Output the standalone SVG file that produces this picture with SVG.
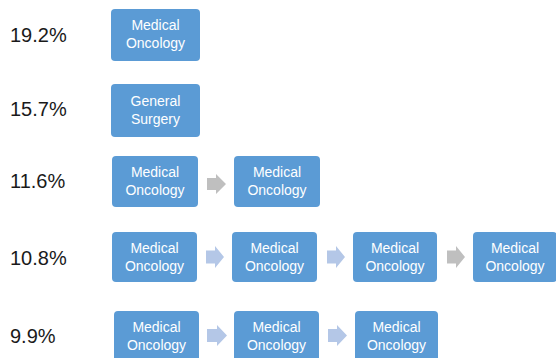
<svg xmlns="http://www.w3.org/2000/svg" width="556" height="358" viewBox="0 0 556 358">
<style>
.pct{font-family:"Liberation Sans",Arial,sans-serif;font-size:20px;fill:#1a1a1a}
.box rect{fill:#5B9BD5}
.box text{font-family:"Liberation Sans",Arial,sans-serif;font-size:14px;fill:#ffffff;text-anchor:middle}
.ab{fill:#B4C7E7}
.ag{fill:#BFBFBF}
</style>
<rect width="556" height="358" fill="#ffffff"/>
<g id="labels">
<text class="pct" x="10" y="42">19.2%</text>
<text class="pct" x="10" y="116">15.7%</text>
<text class="pct" x="10" y="188">11.6%</text>
<text class="pct" x="10" y="265">10.8%</text>
<text class="pct" x="10" y="343">9.9%</text>
</g>
<g id="r1n1" class="box"><rect x="111" y="9" width="89" height="52" rx="4"/><text x="155.5" y="30">Medical</text><text x="155.5" y="48">Oncology</text></g>
<g id="r2n1" class="box"><rect x="111" y="84" width="89" height="53" rx="4"/><text x="155.5" y="106">General</text><text x="155.5" y="124">Surgery</text></g>
<g id="r3n1" class="box"><rect x="112" y="156" width="86" height="51" rx="4"/><text x="155" y="177">Medical</text><text x="155" y="195">Oncology</text></g>
<g id="r3n2" class="box"><rect x="234" y="156" width="86" height="51" rx="4"/><text x="277" y="177">Medical</text><text x="277" y="195">Oncology</text></g>
<g id="r4n1" class="box"><rect x="112" y="232" width="85" height="50" rx="4"/><text x="154.5" y="253">Medical</text><text x="154.5" y="271">Oncology</text></g>
<g id="r4n2" class="box"><rect x="232" y="232" width="85" height="50" rx="4"/><text x="274.5" y="253">Medical</text><text x="274.5" y="271">Oncology</text></g>
<g id="r4n3" class="box"><rect x="353" y="232" width="84" height="50" rx="4"/><text x="395" y="253">Medical</text><text x="395" y="271">Oncology</text></g>
<g id="r4n4" class="box"><rect x="473" y="232" width="84" height="50" rx="4"/><text x="515" y="253">Medical</text><text x="515" y="271">Oncology</text></g>
<g id="r5n1" class="box"><rect x="114" y="311" width="85" height="52" rx="4"/><text x="156.5" y="332">Medical</text><text x="156.5" y="350">Oncology</text></g>
<g id="r5n2" class="box"><rect x="234" y="311" width="85" height="52" rx="4"/><text x="276.5" y="332">Medical</text><text x="276.5" y="350">Oncology</text></g>
<g id="r5n3" class="box"><rect x="355" y="311" width="83" height="52" rx="4"/><text x="396.5" y="332">Medical</text><text x="396.5" y="350">Oncology</text></g>
<g id="connectors">
<polygon class="ag" points="207,178 216,178 216,174 226,184 216,194 216,190 207,190"/>
<polygon class="ab" points="206,250.5 215,250.5 215,246 224,257 215,268 215,263.5 206,263.5"/>
<polygon class="ab" points="327,250.5 336,250.5 336,246 345,257 336,268 336,263.5 327,263.5"/>
<polygon class="ag" points="447,250.5 456,250.5 456,246 465,257 456,268 456,263.5 447,263.5"/>
<polygon class="ab" points="207,329 217,329 217,325 227,335.5 217,346 217,342 207,342"/>
<polygon class="ab" points="328,329 337,329 337,325 347,335.5 337,346 337,342 328,342"/>
</g>
</svg>
